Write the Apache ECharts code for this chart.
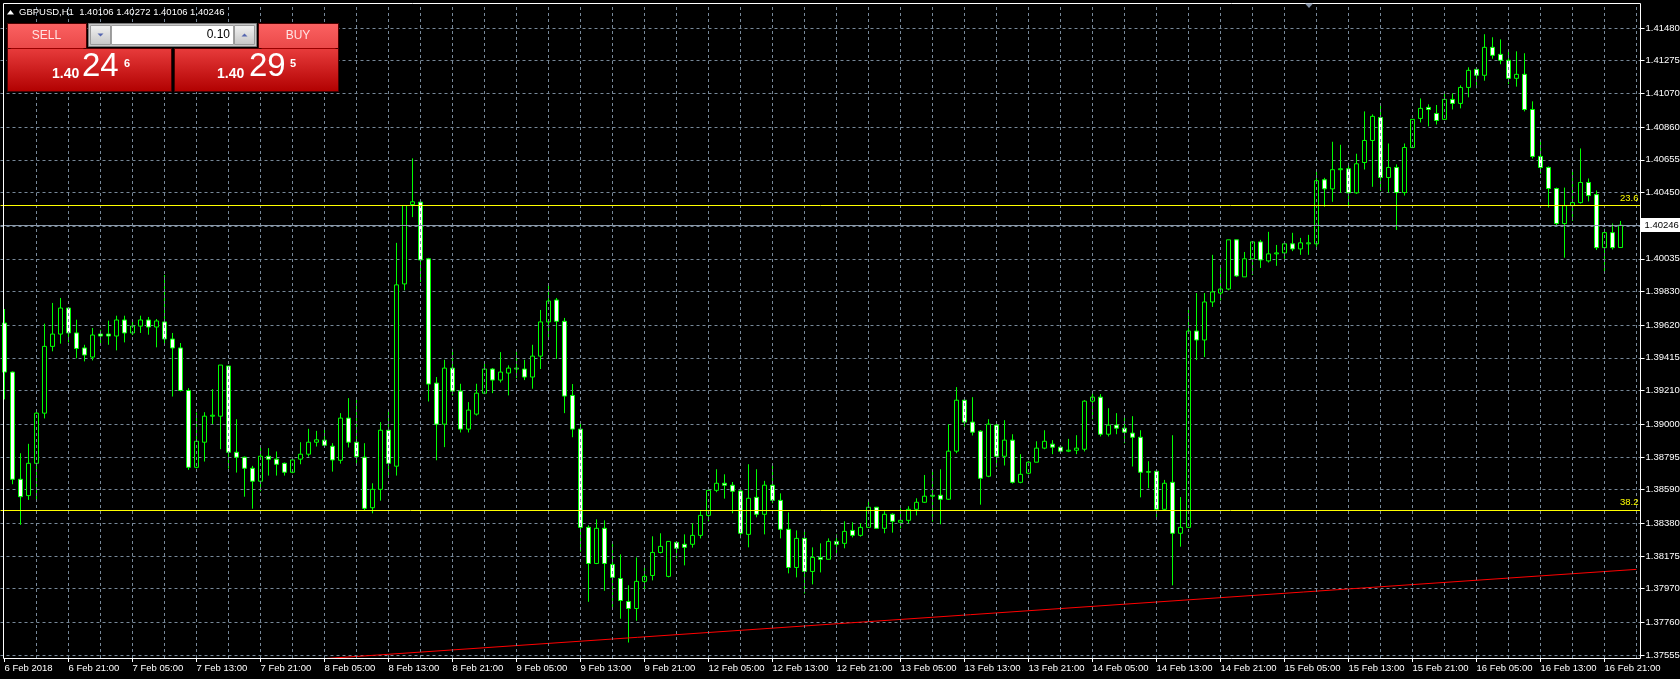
<!DOCTYPE html>
<html><head><meta charset="utf-8">
<script src="https://cdn.jsdelivr.net/npm/echarts@6/dist/echarts.min.js"></script>
<style>html,body{margin:0;padding:0;background:#000;}#c{width:1680px;height:679px;}</style>
</head><body><div id="c"></div>
<script>
// ---- data (GBPUSD, H1) ----
const open = [1.39633,1.39326,1.38655,1.38553,1.38755,1.39069,1.39487,1.39564,1.39727,1.39571,
1.39477,1.39420,1.39564,1.39564,1.39552,1.39652,1.39571,1.39614,1.39652,1.39608,
1.39640,1.39533,1.39477,1.39211,1.38730,1.38887,1.39050,1.39050,1.39364,1.38824,
1.38793,1.38724,1.38643,1.38799,1.38781,1.38755,1.38699,1.38781,1.38812,1.38887,
1.38900,1.38862,1.38774,1.39038,1.38887,1.38793,1.38477,1.38592,1.38962,1.38737,
1.39878,1.40375,1.40390,1.40035,1.39257,1.39000,1.39351,1.39207,1.38969,1.39063,
1.39194,1.39345,1.39276,1.39320,1.39345,1.39345,1.39295,1.39426,1.39640,1.39777,
1.39644,1.39180,1.38969,1.38354,1.38128,1.38348,1.38122,1.38034,1.37890,1.37846,
1.38016,1.38053,1.38197,1.38047,1.38260,1.38248,1.38248,1.38304,1.38429,1.38586,
1.38630,1.38618,1.38582,1.38310,1.38542,1.38436,1.38618,1.38523,1.38342,1.38103,
1.38285,1.38078,1.38166,1.38154,1.38266,1.38254,1.38335,1.38304,1.38354,1.38480,
1.38348,1.38436,1.38386,1.38398,1.38467,1.38511,1.38549,1.38555,1.38530,1.38831,
1.39150,1.39013,1.38956,1.38674,1.38994,1.38799,1.38900,1.38636,1.38693,1.38762,
1.38850,1.38875,1.38856,1.38831,1.38837,1.38843,1.39144,1.39169,1.38937,1.38994,
1.38975,1.38944,1.38918,1.38699,1.38705,1.38467,1.38636,1.38317,1.38354,1.39583,
1.39527,1.39765,1.39821,1.39846,1.40154,1.39922,1.40035,1.40141,1.40022,1.40066,
1.40072,1.40129,1.40097,1.40129,1.40129,1.40530,1.40473,1.40593,1.40599,1.40448,
1.40638,1.40776,1.40920,1.40544,1.40607,1.40450,1.40732,1.40914,1.40983,1.40945,
1.40908,1.41033,1.41008,1.41108,1.41221,1.41184,1.41359,1.41315,1.41278,1.41165,
1.41190,1.40970,1.40676,1.40607,1.40475,1.40256,1.40368,1.40387,1.40513,1.40437,
1.40105,1.40199,1.40106];
const high = [1.39721,1.39330,1.38818,1.38877,1.39082,1.39629,1.39759,1.39790,1.39730,1.39654,
1.39497,1.39602,1.39591,1.39648,1.39679,1.39679,1.39648,1.39679,1.39671,1.39658,
1.39934,1.39571,1.39508,1.39226,1.39073,1.39075,1.39219,1.39370,1.39364,1.39031,
1.38797,1.38739,1.38856,1.38850,1.38829,1.38760,1.38780,1.38887,1.38971,1.38958,
1.38979,1.38881,1.39069,1.39163,1.39157,1.38881,1.38630,1.39013,1.39084,1.40135,
1.40369,1.40664,1.40407,1.40041,1.39295,1.39403,1.39472,1.39253,1.39138,1.39253,
1.39382,1.39351,1.39451,1.39368,1.39451,1.39403,1.39497,1.39715,1.39872,1.39790,
1.39665,1.39251,1.39006,1.38367,1.38404,1.38398,1.38260,1.38185,1.37991,1.38166,
1.38103,1.38298,1.38317,1.38266,1.38260,1.38310,1.38379,1.38455,1.38588,1.38718,
1.38686,1.38638,1.38599,1.38749,1.38718,1.38645,1.38743,1.38567,1.38448,1.38335,
1.38329,1.38229,1.38254,1.38285,1.38310,1.38392,1.38386,1.38379,1.38523,1.38480,
1.38455,1.38442,1.38473,1.38486,1.38536,1.38682,1.38707,1.38718,1.39000,1.39232,
1.39169,1.39169,1.38962,1.39031,1.39000,1.39025,1.38937,1.38812,1.38768,1.38893,
1.38962,1.38900,1.38868,1.38908,1.38931,1.39150,1.39201,1.39188,1.39100,1.39069,
1.39056,1.39050,1.38962,1.38768,1.38705,1.38651,1.38931,1.38544,1.39721,1.39821,
1.39821,1.40060,1.39997,1.40154,1.40154,1.40078,1.40141,1.40154,1.40204,1.40122,
1.40141,1.40198,1.40166,1.40185,1.40586,1.40542,1.40768,1.40749,1.40636,1.40693,
1.40958,1.40939,1.41000,1.40757,1.40626,1.40757,1.40908,1.41039,1.41002,1.40998,
1.41083,1.41071,1.41121,1.41234,1.41234,1.41441,1.41422,1.41409,1.41347,1.41334,
1.41322,1.41021,1.40776,1.40613,1.40481,1.40481,1.40594,1.40726,1.40538,1.40463,
1.40224,1.40256,1.40272];
const low = [1.39155,1.38624,1.38370,1.38526,1.38515,1.39036,1.39456,1.39504,1.39512,1.39412,
1.39393,1.39399,1.39491,1.39497,1.39462,1.39512,1.39558,1.39571,1.39560,1.39481,
1.39497,1.39173,1.39205,1.38714,1.38724,1.38766,1.39000,1.38843,1.38722,1.38697,
1.38546,1.38471,1.38580,1.38678,1.38678,1.38678,1.38693,1.38749,1.38797,1.38860,
1.38864,1.38703,1.38753,1.38854,1.38755,1.38463,1.38442,1.38521,1.38678,1.38678,
1.39838,1.40296,1.39890,1.39142,1.38774,1.38856,1.39180,1.38948,1.38948,1.39054,
1.39188,1.39194,1.39261,1.39180,1.39288,1.39276,1.39222,1.39345,1.39545,1.39408,
1.39069,1.38918,1.38202,1.37888,1.38124,1.37957,1.37840,1.37782,1.37633,1.37769,
1.37951,1.38022,1.38191,1.38041,1.38160,1.38116,1.38227,1.38285,1.38392,1.38574,
1.38534,1.38442,1.38285,1.38229,1.38417,1.38310,1.38505,1.38285,1.38066,1.38041,
1.37940,1.37997,1.38072,1.38154,1.38191,1.38223,1.38291,1.38296,1.38354,1.38348,
1.38317,1.38321,1.38348,1.38379,1.38429,1.38507,1.38390,1.38373,1.38526,1.38818,
1.38985,1.38929,1.38496,1.38668,1.38730,1.38741,1.38628,1.38630,1.38686,1.38762,
1.38843,1.38812,1.38827,1.38825,1.38812,1.38829,1.39031,1.38923,1.38923,1.38937,
1.38881,1.38735,1.38542,1.38599,1.38400,1.38463,1.37991,1.38233,1.38354,1.39401,
1.39420,1.39734,1.39775,1.39838,1.39922,1.39922,1.39934,1.39978,1.40012,1.39991,
1.40035,1.40083,1.40060,1.40060,1.40110,1.40361,1.40392,1.40448,1.40361,1.40442,
1.40594,1.40486,1.40460,1.40450,1.40216,1.40431,1.40728,1.40889,1.40864,1.40876,
1.40904,1.40970,1.40977,1.41046,1.41102,1.41150,1.41288,1.41253,1.41129,1.41113,
1.40958,1.40663,1.40569,1.40356,1.40243,1.40042,1.40272,1.40381,1.40394,1.40090,
1.39944,1.40093,1.40106];
const close = [1.39326,1.38655,1.38546,1.38755,1.39069,1.39487,1.39564,1.39727,1.39571,1.39474,
1.39433,1.39558,1.39552,1.39552,1.39652,1.39571,1.39614,1.39652,1.39608,1.39646,
1.39533,1.39477,1.39211,1.38730,1.38893,1.39050,1.39056,1.39370,1.38824,1.38793,
1.38724,1.38643,1.38799,1.38781,1.38749,1.38699,1.38776,1.38812,1.38887,1.38902,
1.38868,1.38776,1.39038,1.38887,1.38797,1.38473,1.38592,1.38962,1.38755,1.39872,
1.40369,1.40392,1.40028,1.39251,1.39000,1.39351,1.39207,1.38969,1.39088,1.39194,
1.39345,1.39276,1.39326,1.39351,1.39351,1.39295,1.39426,1.39640,1.39771,1.39644,
1.39176,1.38969,1.38354,1.38128,1.38348,1.38128,1.38041,1.37896,1.37846,1.38016,
1.38047,1.38197,1.38235,1.38266,1.38223,1.38229,1.38304,1.38429,1.38586,1.38630,
1.38618,1.38580,1.38317,1.38536,1.38436,1.38618,1.38523,1.38342,1.38103,1.38285,
1.38078,1.38166,1.38154,1.38266,1.38248,1.38329,1.38304,1.38354,1.38480,1.38348,
1.38436,1.38392,1.38398,1.38467,1.38511,1.38549,1.38555,1.38530,1.38831,1.39150,
1.39013,1.38950,1.38661,1.39000,1.38799,1.38900,1.38636,1.38686,1.38762,1.38850,
1.38893,1.38856,1.38831,1.38837,1.38850,1.39144,1.39169,1.38937,1.38994,1.38975,
1.38950,1.38918,1.38699,1.38703,1.38467,1.38630,1.38317,1.38354,1.39583,1.39527,
1.39765,1.39828,1.39846,1.40154,1.39928,1.40035,1.40141,1.40028,1.40066,1.40072,
1.40129,1.40097,1.40135,1.40135,1.40524,1.40473,1.40593,1.40599,1.40448,1.40630,
1.40776,1.40927,1.40544,1.40607,1.40450,1.40732,1.40908,1.40977,1.40970,1.40901,
1.41033,1.41008,1.41108,1.41215,1.41184,1.41359,1.41309,1.41278,1.41165,1.41190,
1.40970,1.40676,1.40607,1.40475,1.40256,1.40368,1.40387,1.40513,1.40431,1.40105,
1.40199,1.40105,1.40246];

const xTickLabels = ['6 Feb 2018','6 Feb 21:00','7 Feb 05:00','7 Feb 13:00','7 Feb 21:00','8 Feb 05:00',
'8 Feb 13:00','8 Feb 21:00','9 Feb 05:00','9 Feb 13:00','9 Feb 21:00','12 Feb 05:00','12 Feb 13:00',
'12 Feb 21:00','13 Feb 05:00','13 Feb 13:00','13 Feb 21:00','14 Feb 05:00','14 Feb 13:00','14 Feb 21:00',
'15 Feb 05:00','15 Feb 13:00','15 Feb 21:00','16 Feb 05:00','16 Feb 13:00','16 Feb 21:00'];
const yTickLabels = [1.41480,1.41275,1.41070,1.40860,1.40655,1.40450,1.40035,1.39830,1.39620,1.39415,
1.39210,1.39000,1.38795,1.38590,1.38380,1.38175,1.37970,1.37760,1.37555];
const yGridValues = [1.41480,1.41275,1.41070,1.40860,1.40655,1.40450,1.40240,1.40035,1.39830,1.39620,1.39415,
1.39210,1.39000,1.38795,1.38590,1.38380,1.38175,1.37970,1.37760,1.37555];
const yMin = 1.375362, yMax = 1.416365;
const bidPrice = 1.40246, askPrice = 1.40295, lotSize = '0.10';
const fibNames = ['23.6','38.2'];
const fibPrices = [1.40371, 1.38464];
const trendLine = [[0, 1.37396], [204, 1.38091]];
const symbolName = 'GBPUSD,H1';

// ---- categories: hourly bars, weekends skipped ----
const months = ['Jan','Feb','Mar','Apr','May','Jun','Jul','Aug','Sep','Oct','Nov','Dec'];
const categories = [];
for (let t = Date.UTC(2018,1,6,13); categories.length < 205; t += 3600000) {
  const d = new Date(t), wd = d.getUTCDay();
  if (wd === 0 || wd === 6) continue;
  categories.push(d.getUTCDate()+' '+months[d.getUTCMonth()]+' '+String(d.getUTCHours()).padStart(2,'0')+':00');
}
const ohlc = open.map((o,i)=>[o, close[i], low[i], high[i]]);
const vGrid = [];
for (let i = 4; i < categories.length; i += 4) vGrid.push({xAxis: categories[i]});

const FONT = "'Liberation Sans',Arial,sans-serif";
const FS = 9.5;
const GRID = '#778899';
const chart = echarts.init(document.getElementById('c'), null, {renderer:'canvas'});

function grad(a,b){return new echarts.graphic.LinearGradient(0,0,0,1,[{offset:0,color:a},{offset:1,color:b}]);}
function splitPrice(p){const s=p.toFixed(5);return [s.slice(0,4), s.slice(4,6), s.slice(6)];}
const bp = splitPrice(bidPrice), ap = splitPrice(askPrice);
const last = open.length-1;
const headerText = symbolName+'  '+[open[last],high[last],low[last],close[last]].map(v=>v.toFixed(5)).join(' ');

const G = [];
function R(x,y,w,h,fill,stroke){G.push({type:'rect',z:100,silent:true,shape:{x:x,y:y,width:w,height:h},style:{fill:fill,stroke:stroke||null,lineWidth:1}});}
function T(x,y,text,font,fill,align){G.push({type:'text',z:101,silent:true,x:x,y:y,style:{text:text,font:font,fill:fill,align:align||'left',verticalAlign:'middle'}});}
function P(pts,fill){G.push({type:'polygon',z:101,silent:true,shape:{points:pts},style:{fill:fill}});}
function L(x1,y1,x2,y2,c){G.push({type:'line',z:101,silent:true,shape:{x1:x1,y1:y1,x2:x2,y2:y2},style:{stroke:c,lineWidth:1}});}

// frame
G.push({type:'rect',z:99,silent:true,shape:{x:3.5,y:3.5,width:1637,height:655},style:{fill:null,stroke:'#ffffff',lineWidth:1}});
// header
P([[7,14.5],[10.5,10],[14,14.5]],'#ffffff');
T(19,12,headerText,FS+"px "+FONT,'#ffffff');
// chart shift marker
P([[1305,3.5],[1313,3.5],[1309,8]],'#8593a8');
// one-click panel: SELL
R(7.5,48.5,164,43,grad('#e83c3c','#b10000'),'#4a0000');
R(7.5,23.5,79,25,grad('#fb6262','#ea4848'),'#4a0000');
L(10.5,48.5,83.5,48.5,'#9a0000');
T(46.5,36,'SELL',"12px 'Liberation Sans',Arial,sans-serif",'#ffe4e4','center');
// BUY
R(174.5,48.5,164,43,grad('#e83c3c','#b10000'),'#4a0000');
R(258.5,23.5,80,25,grad('#fb6262','#ea4848'),'#4a0000');
L(261.5,48.5,335.5,48.5,'#9a0000');
T(298,36,'BUY',"12px 'Liberation Sans',Arial,sans-serif",'#ffe4e4','center');
// lot input
R(88.5,23.5,168,23,'#c8c8c8','#7a7a7a');
R(90.5,25.5,20,19,grad('#f2f2f2','#c6c6c6'),'#9a9a9a');
R(111.5,25.5,122,19,'#ffffff','#a0a0a0');
R(234.5,25.5,20,19,grad('#f2f2f2','#c6c6c6'),'#9a9a9a');
P([[97.5,33.5],[103.5,33.5],[100.5,36.5]],'#5566b0');
P([[241.5,36.5],[247.5,36.5],[244.5,33.5]],'#5566b0');
T(230,35,lotSize,"12px 'Liberation Sans',Arial,sans-serif",'#000000','right');
// prices
T(52,74,bp[0],"bold 14px 'Liberation Sans',Arial,sans-serif",'#ffffff');
T(82,67,bp[1],"33px 'Liberation Sans',Arial,sans-serif",'#ffffff');
T(124,64,bp[2],"bold 11px 'Liberation Sans',Arial,sans-serif",'#ffffff');
T(217,74,ap[0],"bold 14px 'Liberation Sans',Arial,sans-serif",'#ffffff');
T(249,67,ap[1],"33px 'Liberation Sans',Arial,sans-serif",'#ffffff');
T(290,64,ap[2],"bold 11px 'Liberation Sans',Arial,sans-serif",'#ffffff');

const option = {
  backgroundColor:'#000000',
  animation:false,
  grid:{left:0.5,right:39.5,top:3,bottom:21,containLabel:false,outerBoundsMode:'none'},
  xAxis:{
    type:'category', data:categories, boundaryGap:true,
    axisLine:{show:false},
    axisTick:{show:true, alignWithLabel:true, interval:(i)=>i%8===0, length:4, lineStyle:{color:'#ffffff'}},
    axisLabel:{show:true, interval:(i)=>i%8===0, formatter:(v,i)=>xTickLabels[i/8]||'', align:'left',
      color:'#ffffff', fontFamily:FONT, fontSize:FS, margin:5},
    splitLine:{show:false}
  },
  yAxis:{
    type:'value', position:'right', min:yMin, max:yMax,
    axisLine:{show:false},
    axisTick:{show:true, customValues:yGridValues, length:4, lineStyle:{color:'#ffffff'}},
    axisLabel:{customValues:yTickLabels, formatter:(v)=>Number(v).toFixed(5), color:'#ffffff', fontFamily:FONT, fontSize:FS, margin:5},
    splitLine:{show:true, lineStyle:{color:GRID, type:[3,3], width:1}}
  },
  series:[
    {type:'line', data:[], z:1, silent:true,
     markLine:{silent:true, symbol:['none','none'], label:{show:false}, animation:false,
       lineStyle:{color:GRID, type:[3,3], width:1}, data:vGrid}},
    {type:'line', data:[], z:2, silent:true,
     markLine:{silent:true, symbol:['none','none'], animation:false, precision:5,
       lineStyle:{color:'#8c9aab', type:'solid', width:1},
       label:{show:true, position:'end', formatter:bidPrice.toFixed(5), color:'#000000', backgroundColor:'#ffffff',
         padding:[2,3,2,4], fontFamily:FONT, fontSize:FS, distance:0},
       data:[{yAxis:bidPrice}]}},
    {type:'candlestick', data:ohlc, barWidth:4, z:3, silent:true,
     itemStyle:{color:'#000000', color0:'#ffffff', borderColor:'#00ff00', borderColor0:'#00ff00', borderColorDoji:'#00ff00', borderWidth:1}},
    {type:'line', data:[], z:4, silent:true,
     markLine:{silent:true, symbol:['none','none'], animation:false, precision:5,
       lineStyle:{color:'#ffff00', type:'solid', width:1},
       label:{show:true, position:'insideEndTop', color:'#ffff00', fontFamily:FONT, fontSize:FS, distance:2},
       data:fibPrices.map((p,i)=>({yAxis:p, label:{formatter:fibNames[i]}}))}},
    {type:'line', data:trendLine, z:4, silent:true, symbol:'none', clip:true,
     lineStyle:{color:'#ff0000', width:1}}
  ],
  graphic:G
};
chart.setOption(option);
</script>
</body></html>
